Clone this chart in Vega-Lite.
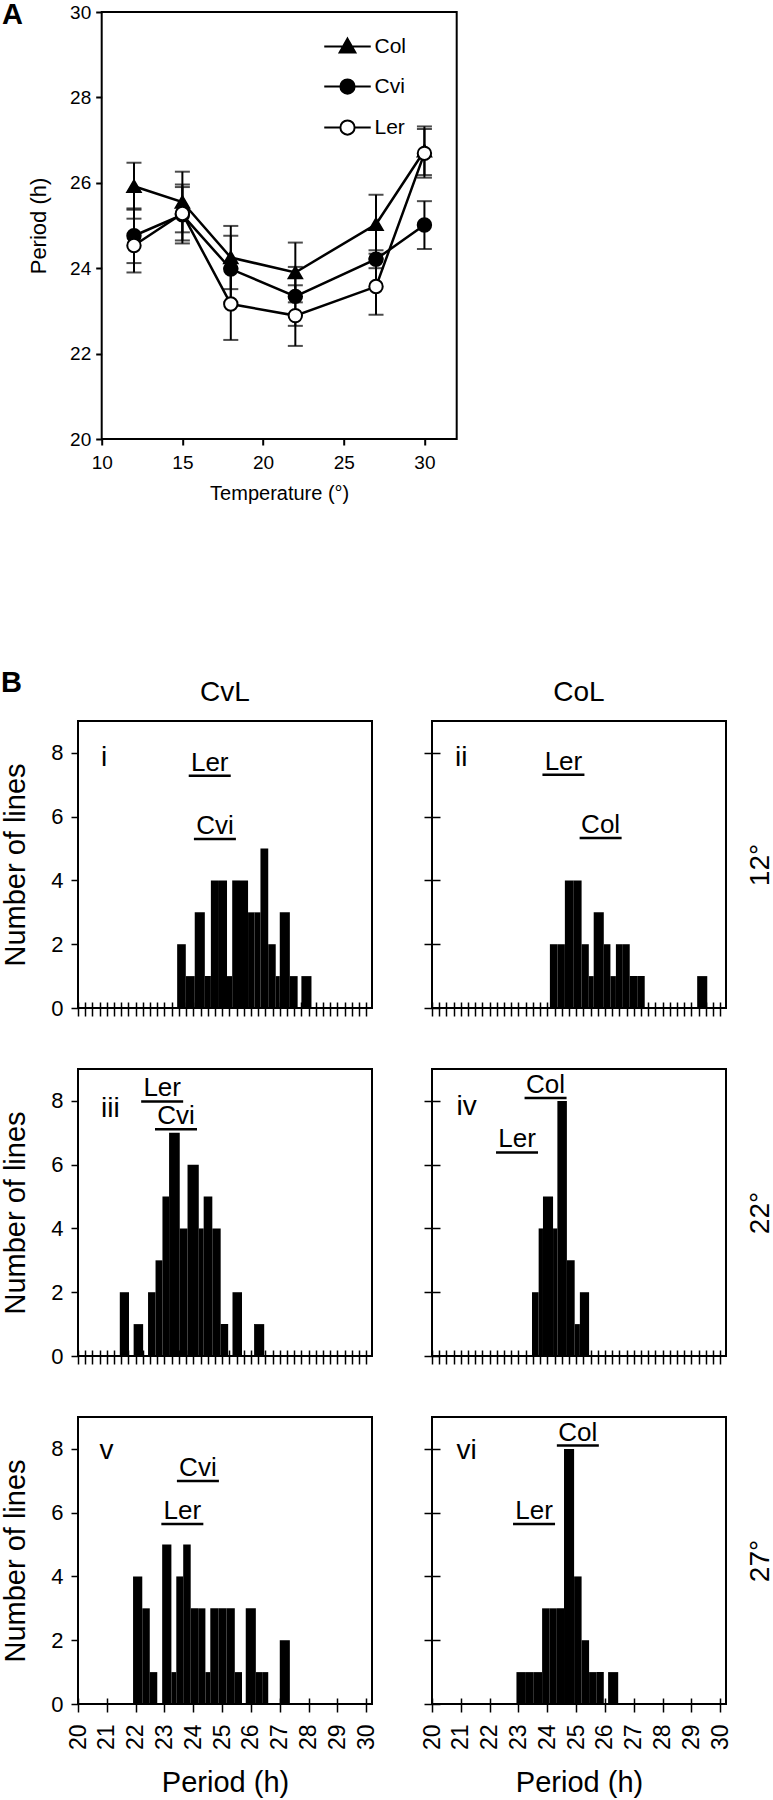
{
  "$schema": "https://vega.github.io/schema/vega-lite/v6.json",
  "padding": 0,
  "background": "white",
  "config": {
    "font": "Liberation Sans",
    "view": {"stroke": "black", "strokeWidth": 2},
    "axis": {"labelColor": "black", "titleColor": "black", "tickColor": "black", "domain": false, "grid": false, "titleFontWeight": "normal", "labelFlush": false},
    "title": {"color": "black"},
    "legend": {"labelColor": "black"}
  },
  "datasets": {
    "periods": [
      {"line": "Col", "temp": 12, "period": 25.92, "lo": 25.37, "hi": 26.47},
      {"line": "Col", "temp": 15, "period": 25.55, "lo": 24.84, "hi": 26.26},
      {"line": "Col", "temp": 18, "period": 24.25, "lo": 23.51, "hi": 24.99},
      {"line": "Col", "temp": 22, "period": 23.9, "lo": 23.2, "hi": 24.6},
      {"line": "Col", "temp": 27, "period": 25.03, "lo": 24.34, "hi": 25.72},
      {"line": "Col", "temp": 30, "period": 26.75, "lo": 26.18, "hi": 27.32},
      {"line": "Cvi", "temp": 12, "period": 24.76, "lo": 24.12, "hi": 25.4},
      {"line": "Cvi", "temp": 15, "period": 25.25, "lo": 24.58, "hi": 25.96},
      {"line": "Cvi", "temp": 18, "period": 23.98, "lo": 23.2, "hi": 24.76},
      {"line": "Cvi", "temp": 22, "period": 23.34, "lo": 22.65, "hi": 24.03},
      {"line": "Cvi", "temp": 27, "period": 24.21, "lo": 24.0, "hi": 24.42},
      {"line": "Cvi", "temp": 30, "period": 25.01, "lo": 24.45, "hi": 25.57},
      {"line": "Ler", "temp": 12, "period": 24.53, "lo": 23.9, "hi": 25.16},
      {"line": "Ler", "temp": 15, "period": 25.28, "lo": 24.65, "hi": 25.9},
      {"line": "Ler", "temp": 18, "period": 23.16, "lo": 22.32, "hi": 24.0},
      {"line": "Ler", "temp": 22, "period": 22.89, "lo": 22.18, "hi": 23.6},
      {"line": "Ler", "temp": 27, "period": 23.57, "lo": 22.91, "hi": 24.23},
      {"line": "Ler", "temp": 30, "period": 26.69, "lo": 26.12, "hi": 27.26}
    ],
    "hist": [
      {"panel": "i", "start": 23.44, "end": 23.74, "n": 2},
      {"panel": "i", "start": 23.74, "end": 24.05, "n": 1},
      {"panel": "i", "start": 24.05, "end": 24.4, "n": 3},
      {"panel": "i", "start": 24.4, "end": 24.61, "n": 1},
      {"panel": "i", "start": 24.61, "end": 24.89, "n": 4},
      {"panel": "i", "start": 24.89, "end": 25.17, "n": 4},
      {"panel": "i", "start": 25.17, "end": 25.35, "n": 1},
      {"panel": "i", "start": 25.35, "end": 25.62, "n": 4},
      {"panel": "i", "start": 25.62, "end": 25.9, "n": 4},
      {"panel": "i", "start": 25.9, "end": 26.12, "n": 3},
      {"panel": "i", "start": 26.12, "end": 26.33, "n": 3},
      {"panel": "i", "start": 26.33, "end": 26.6, "n": 5},
      {"panel": "i", "start": 26.6, "end": 26.86, "n": 2},
      {"panel": "i", "start": 26.86, "end": 27.0, "n": 1},
      {"panel": "i", "start": 27.0, "end": 27.35, "n": 3},
      {"panel": "i", "start": 27.35, "end": 27.62, "n": 1},
      {"panel": "i", "start": 27.75, "end": 28.1, "n": 1},
      {"panel": "ii", "start": 24.09, "end": 24.35, "n": 2},
      {"panel": "ii", "start": 24.35, "end": 24.61, "n": 2},
      {"panel": "ii", "start": 24.61, "end": 24.9, "n": 4},
      {"panel": "ii", "start": 24.9, "end": 25.19, "n": 4},
      {"panel": "ii", "start": 25.19, "end": 25.44, "n": 2},
      {"panel": "ii", "start": 25.44, "end": 25.61, "n": 1},
      {"panel": "ii", "start": 25.61, "end": 25.96, "n": 3},
      {"panel": "ii", "start": 25.96, "end": 26.19, "n": 2},
      {"panel": "ii", "start": 26.19, "end": 26.38, "n": 1},
      {"panel": "ii", "start": 26.38, "end": 26.62, "n": 2},
      {"panel": "ii", "start": 26.62, "end": 26.86, "n": 2},
      {"panel": "ii", "start": 26.86, "end": 27.12, "n": 1},
      {"panel": "ii", "start": 27.12, "end": 27.38, "n": 1},
      {"panel": "ii", "start": 29.2, "end": 29.55, "n": 1},
      {"panel": "iii", "start": 21.45, "end": 21.77, "n": 2},
      {"panel": "iii", "start": 21.93, "end": 22.26, "n": 1},
      {"panel": "iii", "start": 22.43, "end": 22.69, "n": 2},
      {"panel": "iii", "start": 22.69, "end": 22.93, "n": 3},
      {"panel": "iii", "start": 22.93, "end": 23.16, "n": 5},
      {"panel": "iii", "start": 23.16, "end": 23.53, "n": 7},
      {"panel": "iii", "start": 23.53, "end": 23.8, "n": 4},
      {"panel": "iii", "start": 23.8, "end": 24.19, "n": 6},
      {"panel": "iii", "start": 24.19, "end": 24.36, "n": 4},
      {"panel": "iii", "start": 24.36, "end": 24.66, "n": 5},
      {"panel": "iii", "start": 24.66, "end": 24.95, "n": 4},
      {"panel": "iii", "start": 24.95, "end": 25.21, "n": 1},
      {"panel": "iii", "start": 25.36, "end": 25.69, "n": 2},
      {"panel": "iii", "start": 26.11, "end": 26.46, "n": 1},
      {"panel": "iv", "start": 23.47, "end": 23.7, "n": 2},
      {"panel": "iv", "start": 23.7, "end": 23.85, "n": 4},
      {"panel": "iv", "start": 23.85, "end": 24.2, "n": 5},
      {"panel": "iv", "start": 24.2, "end": 24.35, "n": 4},
      {"panel": "iv", "start": 24.35, "end": 24.68, "n": 8},
      {"panel": "iv", "start": 24.68, "end": 24.95, "n": 3},
      {"panel": "iv", "start": 24.95, "end": 25.13, "n": 1},
      {"panel": "iv", "start": 25.13, "end": 25.45, "n": 2},
      {"panel": "v", "start": 21.91, "end": 22.23, "n": 4},
      {"panel": "v", "start": 22.23, "end": 22.49, "n": 3},
      {"panel": "v", "start": 22.49, "end": 22.75, "n": 1},
      {"panel": "v", "start": 22.92, "end": 23.24, "n": 5},
      {"panel": "v", "start": 23.24, "end": 23.41, "n": 1},
      {"panel": "v", "start": 23.41, "end": 23.65, "n": 4},
      {"panel": "v", "start": 23.65, "end": 23.91, "n": 5},
      {"panel": "v", "start": 23.91, "end": 24.17, "n": 3},
      {"panel": "v", "start": 24.17, "end": 24.42, "n": 3},
      {"panel": "v", "start": 24.42, "end": 24.59, "n": 1},
      {"panel": "v", "start": 24.59, "end": 24.87, "n": 3},
      {"panel": "v", "start": 24.87, "end": 25.15, "n": 3},
      {"panel": "v", "start": 25.15, "end": 25.44, "n": 3},
      {"panel": "v", "start": 25.44, "end": 25.69, "n": 1},
      {"panel": "v", "start": 25.82, "end": 26.17, "n": 3},
      {"panel": "v", "start": 26.17, "end": 26.39, "n": 1},
      {"panel": "v", "start": 26.39, "end": 26.6, "n": 1},
      {"panel": "v", "start": 27.0, "end": 27.35, "n": 2},
      {"panel": "vi", "start": 22.93, "end": 23.23, "n": 1},
      {"panel": "vi", "start": 23.23, "end": 23.53, "n": 1},
      {"panel": "vi", "start": 23.53, "end": 23.82, "n": 1},
      {"panel": "vi", "start": 23.82, "end": 24.07, "n": 3},
      {"panel": "vi", "start": 24.07, "end": 24.33, "n": 3},
      {"panel": "vi", "start": 24.33, "end": 24.58, "n": 3},
      {"panel": "vi", "start": 24.58, "end": 24.93, "n": 8},
      {"panel": "vi", "start": 24.93, "end": 25.19, "n": 4},
      {"panel": "vi", "start": 25.19, "end": 25.45, "n": 2},
      {"panel": "vi", "start": 25.45, "end": 25.7, "n": 1},
      {"panel": "vi", "start": 25.7, "end": 25.96, "n": 1},
      {"panel": "vi", "start": 26.11, "end": 26.46, "n": 1}
    ],
    "parents": [
      {"panel": "i", "label": "Ler", "period": 24.57, "level": 7.44},
      {"panel": "i", "label": "Cvi", "period": 24.75, "level": 5.46},
      {"panel": "ii", "label": "Ler", "period": 24.56, "level": 7.47},
      {"panel": "ii", "label": "Col", "period": 25.85, "level": 5.49},
      {"panel": "iii", "label": "Ler", "period": 22.92, "level": 8.14},
      {"panel": "iii", "label": "Cvi", "period": 23.4, "level": 7.27},
      {"panel": "iv", "label": "Col", "period": 23.94, "level": 8.25},
      {"panel": "iv", "label": "Ler", "period": 22.95, "level": 6.54},
      {"panel": "v", "label": "Cvi", "period": 24.16, "level": 7.15},
      {"panel": "v", "label": "Ler", "period": 23.62, "level": 5.8},
      {"panel": "vi", "label": "Col", "period": 25.06, "level": 8.26},
      {"panel": "vi", "label": "Ler", "period": 23.54, "level": 5.8}
    ]
  },
  "columns": 1,
  "align": "none",
  "spacing": 165,
  "concat": [
    {
      "bounds": "flush",
      "spacing": 22.7,
      "hconcat": [
        {"width": 1, "height": 1, "view": {"stroke": null}, "data": {"values": []}, "mark": "point"},
        {
          "width": 355,
          "height": 427,
          "title": {"text": "A", "anchor": "start", "frame": "group", "dx": -99.7, "dy": 27, "offset": 0, "fontSize": 29, "fontWeight": "bold"},
          "data": {"name": "periods"},
          "layer": [
            {
              "mark": {"type": "rule", "color": "black", "strokeWidth": 2},
              "encoding": {
                "x": {"field": "temp", "type": "quantitative", "title": "Temperature (°)", "scale": {"domain": [10, 32], "nice": false, "zero": false},
                  "axis": {"values": [10, 15, 20, 25, 30], "title": "Temperature (°)", "titleFontSize": 20, "labelFontSize": 19, "tickSize": 6, "tickWidth": 2, "labelPadding": 8, "titlePadding": 11, "labelFlush": false}},
                "y": {"field": "lo", "type": "quantitative", "title": "Period (h)", "scale": {"domain": [20, 30], "nice": false, "zero": false},
                  "axis": {"values": [20, 22, 24, 26, 28, 30], "title": "Period (h)", "titleFontSize": 22, "labelFontSize": 19, "tickSize": 6, "tickWidth": 2, "labelPadding": 5, "titlePadding": 19, "labelFlush": false}},
                "y2": {"field": "hi"}
              }
            },
            {
              "mark": {"type": "tick", "orient": "horizontal", "size": 15, "thickness": 2, "color": "black"},
              "encoding": {
                "x": {"field": "temp", "type": "quantitative", "title": "Temperature (°)"},
                "y": {"field": "lo", "type": "quantitative", "title": "Period (h)"}
              }
            },
            {
              "mark": {"type": "tick", "orient": "horizontal", "size": 15, "thickness": 2, "color": "black"},
              "encoding": {
                "x": {"field": "temp", "type": "quantitative", "title": "Temperature (°)"},
                "y": {"field": "hi", "type": "quantitative", "title": "Period (h)"}
              }
            },
            {
              "mark": {"type": "line", "color": "black", "strokeWidth": 2.5},
              "encoding": {
                "x": {"field": "temp", "type": "quantitative", "title": "Temperature (°)"},
                "y": {"field": "period", "type": "quantitative", "title": "Period (h)"},
                "detail": {"field": "line"}
              }
            },
            {
              "mark": {"type": "point", "filled": true, "opacity": 0, "size": 225},
              "encoding": {
                "x": {"field": "temp", "type": "quantitative", "title": "Temperature (°)"},
                "y": {"field": "period", "type": "quantitative", "title": "Period (h)"},
                "shape": {"field": "line", "type": "nominal",
                  "scale": {"domain": ["Col", "Cvi", "Ler"], "range": ["M-3.1,0H3.1M0,-1.05L1.05,0.8H-1.05Z", "M-3.1,0H3.1M0.95,0A0.95,0.95,0,1,1,-0.95,0A0.95,0.95,0,1,1,0.95,0Z", "M-3.1,0H-0.95M0.95,0H3.1M0.95,0A0.95,0.95,0,1,1,-0.95,0A0.95,0.95,0,1,1,0.95,0Z"]},
                  "legend": {"orient": "none", "legendX": 259, "legendY": 24, "title": null, "padding": 0, "symbolSize": 225, "symbolStrokeWidth": 2, "symbolOpacity": 1, "labelFontSize": 21, "labelOffset": 16.5, "rowPadding": 18}},
                "fill": {"field": "line", "type": "nominal",
                  "scale": {"domain": ["Col", "Cvi", "Ler"], "range": ["black", "black", "white"]},
                  "legend": {"orient": "none", "legendX": 259, "legendY": 24, "title": null, "padding": 0, "symbolSize": 225, "symbolStrokeWidth": 2, "symbolOpacity": 1, "labelFontSize": 21, "labelOffset": 16.5, "rowPadding": 18}},
                "stroke": {"field": "line", "type": "nominal",
                  "scale": {"domain": ["Col", "Cvi", "Ler"], "range": ["black", "black", "black"]},
                  "legend": {"orient": "none", "legendX": 259, "legendY": 24, "title": null, "padding": 0, "symbolSize": 225, "symbolStrokeWidth": 2, "symbolOpacity": 1, "labelFontSize": 21, "labelOffset": 16.5, "rowPadding": 18}}
              }
            },
            {
              "transform": [{"filter": "datum.line === 'Col'"}],
              "mark": {"type": "point", "shape": "triangle-up", "filled": true, "fill": "black", "stroke": "black", "strokeWidth": 2, "size": 180, "opacity": 1},
              "encoding": {
                "x": {"field": "temp", "type": "quantitative", "title": "Temperature (°)"},
                "y": {"field": "period", "type": "quantitative", "title": "Period (h)"}
              }
            },
            {
              "transform": [{"filter": "datum.line === 'Cvi'"}],
              "mark": {"type": "point", "shape": "circle", "filled": true, "fill": "black", "stroke": "black", "strokeWidth": 2, "size": 180, "opacity": 1},
              "encoding": {
                "x": {"field": "temp", "type": "quantitative", "title": "Temperature (°)"},
                "y": {"field": "period", "type": "quantitative", "title": "Period (h)"}
              }
            },
            {
              "transform": [{"filter": "datum.line === 'Ler'"}],
              "mark": {"type": "point", "shape": "circle", "filled": true, "fill": "white", "stroke": "black", "strokeWidth": 2, "size": 180, "opacity": 1},
              "encoding": {
                "x": {"field": "temp", "type": "quantitative", "title": "Temperature (°)"},
                "y": {"field": "period", "type": "quantitative", "title": "Period (h)"}
              }
            }
          ]
        }
      ]
    },
    {
      "title": {"text": "B", "anchor": "start", "frame": "group", "dx": -77, "dy": 20, "offset": 0, "fontSize": 29, "fontWeight": "bold"},
      "bounds": "flush",
      "columns": 2,
      "spacing": {"row": 61, "column": 60},
      "concat": [
        {
          "width": 294, "height": 287,
          "title": {"text": "CvL", "fontSize": 28, "fontWeight": "normal", "anchor": "middle", "offset": 14},
          "layer": [
            {"data": {"name": "hist"}, "transform": [{"filter": "datum.panel === 'i'"}], "mark": {"type": "rect", "color": "black"},
              "encoding": {
                "x": {"field": "start", "type": "quantitative", "scale": {"domain": [20, 30.2], "nice": false, "zero": false},
                  "axis": {"values": [20,20.25,20.5,20.75,21,21.25,21.5,21.75,22,22.25,22.5,22.75,23,23.25,23.5,23.75,24,24.25,24.5,24.75,25,25.25,25.5,25.75,26,26.25,26.5,26.75,27,27.25,27.5,27.75,28,28.25,28.5,28.75,29,29.25,29.5,29.75,30], "labels": false, "title": null, "offset": -6, "tickSize": 14, "tickWidth": 1.5}},
                "x2": {"field": "end"},
                "y": {"field": "n", "type": "quantitative", "scale": {"domain": [0, 9], "nice": false},
                  "axis": {"values": [0, 2, 4, 6, 8], "labelFontSize": 22, "labelPadding": 8, "tickSize": 7, "tickWidth": 1.5, "title": "Number of lines", "titleFontSize": 29, "titlePadding": 20}},
                "y2": {"datum": 0}
              }},
            {"data": {"name": "parents"}, "transform": [{"filter": "datum.panel === 'i'"}], "mark": {"type": "rule", "color": "black", "strokeWidth": 2.5, "xOffset": -21, "x2Offset": 21, "yOffset": 5},
              "encoding": {"x": {"field": "period", "type": "quantitative", "axis": null}, "x2": {"field": "period"}, "y": {"field": "level", "type": "quantitative", "axis": null}}},
            {"data": {"name": "parents"}, "transform": [{"filter": "datum.panel === 'i'"}], "mark": {"type": "text", "fontSize": 26, "baseline": "alphabetic", "align": "center", "color": "black"},
              "encoding": {"x": {"field": "period", "type": "quantitative", "axis": null}, "y": {"field": "level", "type": "quantitative", "axis": null}, "text": {"field": "label"}}},
            {"data": {"values": [{"tag": "i"}]}, "mark": {"type": "text", "fontSize": 28, "baseline": "alphabetic", "align": "left", "color": "black"},
              "encoding": {"x": {"datum": 20.8, "type": "quantitative", "axis": null}, "y": {"datum": 7.6, "type": "quantitative", "axis": null}, "text": {"field": "tag"}}}
          ],
          "resolve": {"axis": {"x": "independent", "y": "independent"}}
        },
        {
          "width": 294, "height": 287,
          "title": {"text": "CoL", "fontSize": 28, "fontWeight": "normal", "anchor": "middle", "offset": 14},
          "layer": [
            {"data": {"name": "hist"}, "transform": [{"filter": "datum.panel === 'ii'"}], "mark": {"type": "rect", "color": "black"},
              "encoding": {
                "x": {"field": "start", "type": "quantitative", "scale": {"domain": [20, 30.2], "nice": false, "zero": false},
                  "axis": {"values": [20,20.25,20.5,20.75,21,21.25,21.5,21.75,22,22.25,22.5,22.75,23,23.25,23.5,23.75,24,24.25,24.5,24.75,25,25.25,25.5,25.75,26,26.25,26.5,26.75,27,27.25,27.5,27.75,28,28.25,28.5,28.75,29,29.25,29.5,29.75,30], "labels": false, "title": null, "offset": -6, "tickSize": 14, "tickWidth": 1.5}},
                "x2": {"field": "end"},
                "y": {"field": "n", "type": "quantitative", "scale": {"domain": [0, 9], "nice": false},
                  "axis": {"values": [0, 2, 4, 6, 8], "labels": false, "offset": -8, "tickSize": 16, "tickWidth": 1.5, "title": null}},
                "y2": {"datum": 0}
              }},
            {"data": {"name": "parents"}, "transform": [{"filter": "datum.panel === 'ii'"}], "mark": {"type": "rule", "color": "black", "strokeWidth": 2.5, "xOffset": -21, "x2Offset": 21, "yOffset": 5},
              "encoding": {"x": {"field": "period", "type": "quantitative", "axis": null}, "x2": {"field": "period"}, "y": {"field": "level", "type": "quantitative", "axis": null}}},
            {"data": {"name": "parents"}, "transform": [{"filter": "datum.panel === 'ii'"}], "mark": {"type": "text", "fontSize": 26, "baseline": "alphabetic", "align": "center", "color": "black"},
              "encoding": {"x": {"field": "period", "type": "quantitative", "axis": null},
                "y": {"field": "level", "type": "quantitative", "axis": {"orient": "right", "title": "12°", "titleFontSize": 28, "titleAngle": 270, "titleBaseline": "top", "titlePadding": 20, "ticks": false, "labels": false}},
                "text": {"field": "label"}}},
            {"data": {"values": [{"tag": "ii"}]}, "mark": {"type": "text", "fontSize": 28, "baseline": "alphabetic", "align": "left", "color": "black"},
              "encoding": {"x": {"datum": 20.8, "type": "quantitative", "axis": null}, "y": {"datum": 7.6, "type": "quantitative", "axis": null}, "text": {"field": "tag"}}}
          ],
          "resolve": {"axis": {"x": "independent", "y": "independent"}}
        },
        {
          "width": 294, "height": 287,
          "layer": [
            {"data": {"name": "hist"}, "transform": [{"filter": "datum.panel === 'iii'"}], "mark": {"type": "rect", "color": "black"},
              "encoding": {
                "x": {"field": "start", "type": "quantitative", "scale": {"domain": [20, 30.2], "nice": false, "zero": false},
                  "axis": {"values": [20,20.25,20.5,20.75,21,21.25,21.5,21.75,22,22.25,22.5,22.75,23,23.25,23.5,23.75,24,24.25,24.5,24.75,25,25.25,25.5,25.75,26,26.25,26.5,26.75,27,27.25,27.5,27.75,28,28.25,28.5,28.75,29,29.25,29.5,29.75,30], "labels": false, "title": null, "offset": -6, "tickSize": 14, "tickWidth": 1.5}},
                "x2": {"field": "end"},
                "y": {"field": "n", "type": "quantitative", "scale": {"domain": [0, 9], "nice": false},
                  "axis": {"values": [0, 2, 4, 6, 8], "labelFontSize": 22, "labelPadding": 8, "tickSize": 7, "tickWidth": 1.5, "title": "Number of lines", "titleFontSize": 29, "titlePadding": 20}},
                "y2": {"datum": 0}
              }},
            {"data": {"name": "parents"}, "transform": [{"filter": "datum.panel === 'iii'"}], "mark": {"type": "rule", "color": "black", "strokeWidth": 2.5, "xOffset": -21, "x2Offset": 21, "yOffset": 5},
              "encoding": {"x": {"field": "period", "type": "quantitative", "axis": null}, "x2": {"field": "period"}, "y": {"field": "level", "type": "quantitative", "axis": null}}},
            {"data": {"name": "parents"}, "transform": [{"filter": "datum.panel === 'iii'"}], "mark": {"type": "text", "fontSize": 26, "baseline": "alphabetic", "align": "center", "color": "black"},
              "encoding": {"x": {"field": "period", "type": "quantitative", "axis": null}, "y": {"field": "level", "type": "quantitative", "axis": null}, "text": {"field": "label"}}},
            {"data": {"values": [{"tag": "iii"}]}, "mark": {"type": "text", "fontSize": 28, "baseline": "alphabetic", "align": "left", "color": "black"},
              "encoding": {"x": {"datum": 20.8, "type": "quantitative", "axis": null}, "y": {"datum": 7.5, "type": "quantitative", "axis": null}, "text": {"field": "tag"}}}
          ],
          "resolve": {"axis": {"x": "independent", "y": "independent"}}
        },
        {
          "width": 294, "height": 287,
          "layer": [
            {"data": {"name": "hist"}, "transform": [{"filter": "datum.panel === 'iv'"}], "mark": {"type": "rect", "color": "black"},
              "encoding": {
                "x": {"field": "start", "type": "quantitative", "scale": {"domain": [20, 30.2], "nice": false, "zero": false},
                  "axis": {"values": [20,20.25,20.5,20.75,21,21.25,21.5,21.75,22,22.25,22.5,22.75,23,23.25,23.5,23.75,24,24.25,24.5,24.75,25,25.25,25.5,25.75,26,26.25,26.5,26.75,27,27.25,27.5,27.75,28,28.25,28.5,28.75,29,29.25,29.5,29.75,30], "labels": false, "title": null, "offset": -6, "tickSize": 14, "tickWidth": 1.5}},
                "x2": {"field": "end"},
                "y": {"field": "n", "type": "quantitative", "scale": {"domain": [0, 9], "nice": false},
                  "axis": {"values": [0, 2, 4, 6, 8], "labels": false, "offset": -8, "tickSize": 16, "tickWidth": 1.5, "title": null}},
                "y2": {"datum": 0}
              }},
            {"data": {"name": "parents"}, "transform": [{"filter": "datum.panel === 'iv'"}], "mark": {"type": "rule", "color": "black", "strokeWidth": 2.5, "xOffset": -21, "x2Offset": 21, "yOffset": 5},
              "encoding": {"x": {"field": "period", "type": "quantitative", "axis": null}, "x2": {"field": "period"}, "y": {"field": "level", "type": "quantitative", "axis": null}}},
            {"data": {"name": "parents"}, "transform": [{"filter": "datum.panel === 'iv'"}], "mark": {"type": "text", "fontSize": 26, "baseline": "alphabetic", "align": "center", "color": "black"},
              "encoding": {"x": {"field": "period", "type": "quantitative", "axis": null},
                "y": {"field": "level", "type": "quantitative", "axis": {"orient": "right", "title": "22°", "titleFontSize": 28, "titleAngle": 270, "titleBaseline": "top", "titlePadding": 20, "ticks": false, "labels": false}},
                "text": {"field": "label"}}},
            {"data": {"values": [{"tag": "iv"}]}, "mark": {"type": "text", "fontSize": 28, "baseline": "alphabetic", "align": "left", "color": "black"},
              "encoding": {"x": {"datum": 20.85, "type": "quantitative", "axis": null}, "y": {"datum": 7.57, "type": "quantitative", "axis": null}, "text": {"field": "tag"}}}
          ],
          "resolve": {"axis": {"x": "independent", "y": "independent"}}
        },
        {
          "width": 294, "height": 287,
          "layer": [
            {"data": {"name": "hist"}, "transform": [{"filter": "datum.panel === 'v'"}], "mark": {"type": "rect", "color": "black"},
              "encoding": {
                "x": {"field": "start", "type": "quantitative", "scale": {"domain": [20, 30.2], "nice": false, "zero": false},
                  "axis": {"values": [20,20.25,20.5,20.75,21,21.25,21.5,21.75,22,22.25,22.5,22.75,23,23.25,23.5,23.75,24,24.25,24.5,24.75,25,25.25,25.5,25.75,26,26.25,26.5,26.75,27,27.25,27.5,27.75,28,28.25,28.5,28.75,29,29.25,29.5,29.75,30], "format": "d", "labelExpr": "datum.value % 1 === 0 ? datum.label : ''", "labelAngle": 270, "labelFontSize": 23, "labelPadding": 12, "labelOverlap": false, "title": "Period (h)", "titleFontSize": 29, "titlePadding": 19, "offset": -6, "tickSize": 14, "tickWidth": 1.5}},
                "x2": {"field": "end"},
                "y": {"field": "n", "type": "quantitative", "scale": {"domain": [0, 9], "nice": false},
                  "axis": {"values": [0, 2, 4, 6, 8], "labelFontSize": 22, "labelPadding": 8, "tickSize": 7, "tickWidth": 1.5, "title": "Number of lines", "titleFontSize": 29, "titlePadding": 20}},
                "y2": {"datum": 0}
              }},
            {"data": {"name": "parents"}, "transform": [{"filter": "datum.panel === 'v'"}], "mark": {"type": "rule", "color": "black", "strokeWidth": 2.5, "xOffset": -21, "x2Offset": 21, "yOffset": 5},
              "encoding": {"x": {"field": "period", "type": "quantitative", "axis": null}, "x2": {"field": "period"}, "y": {"field": "level", "type": "quantitative", "axis": null}}},
            {"data": {"name": "parents"}, "transform": [{"filter": "datum.panel === 'v'"}], "mark": {"type": "text", "fontSize": 26, "baseline": "alphabetic", "align": "center", "color": "black"},
              "encoding": {"x": {"field": "period", "type": "quantitative", "axis": null}, "y": {"field": "level", "type": "quantitative", "axis": null}, "text": {"field": "label"}}},
            {"data": {"values": [{"tag": "v"}]}, "mark": {"type": "text", "fontSize": 28, "baseline": "alphabetic", "align": "left", "color": "black"},
              "encoding": {"x": {"datum": 20.75, "type": "quantitative", "axis": null}, "y": {"datum": 7.67, "type": "quantitative", "axis": null}, "text": {"field": "tag"}}}
          ],
          "resolve": {"axis": {"x": "independent", "y": "independent"}}
        },
        {
          "width": 294, "height": 287,
          "layer": [
            {"data": {"name": "hist"}, "transform": [{"filter": "datum.panel === 'vi'"}], "mark": {"type": "rect", "color": "black"},
              "encoding": {
                "x": {"field": "start", "type": "quantitative", "scale": {"domain": [20, 30.2], "nice": false, "zero": false},
                  "axis": {"values": [20,20.25,20.5,20.75,21,21.25,21.5,21.75,22,22.25,22.5,22.75,23,23.25,23.5,23.75,24,24.25,24.5,24.75,25,25.25,25.5,25.75,26,26.25,26.5,26.75,27,27.25,27.5,27.75,28,28.25,28.5,28.75,29,29.25,29.5,29.75,30], "format": "d", "labelExpr": "datum.value % 1 === 0 ? datum.label : ''", "labelAngle": 270, "labelFontSize": 23, "labelPadding": 12, "labelOverlap": false, "title": "Period (h)", "titleFontSize": 29, "titlePadding": 19, "offset": -6, "tickSize": 14, "tickWidth": 1.5}},
                "x2": {"field": "end"},
                "y": {"field": "n", "type": "quantitative", "scale": {"domain": [0, 9], "nice": false},
                  "axis": {"values": [0, 2, 4, 6, 8], "labels": false, "offset": -8, "tickSize": 16, "tickWidth": 1.5, "title": null}},
                "y2": {"datum": 0}
              }},
            {"data": {"name": "parents"}, "transform": [{"filter": "datum.panel === 'vi'"}], "mark": {"type": "rule", "color": "black", "strokeWidth": 2.5, "xOffset": -21, "x2Offset": 21, "yOffset": 5},
              "encoding": {"x": {"field": "period", "type": "quantitative", "axis": null}, "x2": {"field": "period"}, "y": {"field": "level", "type": "quantitative", "axis": null}}},
            {"data": {"name": "parents"}, "transform": [{"filter": "datum.panel === 'vi'"}], "mark": {"type": "text", "fontSize": 26, "baseline": "alphabetic", "align": "center", "color": "black"},
              "encoding": {"x": {"field": "period", "type": "quantitative", "axis": null},
                "y": {"field": "level", "type": "quantitative", "axis": {"orient": "right", "title": "27°", "titleFontSize": 28, "titleAngle": 270, "titleBaseline": "top", "titlePadding": 20, "ticks": false, "labels": false}},
                "text": {"field": "label"}}},
            {"data": {"values": [{"tag": "vi"}]}, "mark": {"type": "text", "fontSize": 28, "baseline": "alphabetic", "align": "left", "color": "black"},
              "encoding": {"x": {"datum": 20.85, "type": "quantitative", "axis": null}, "y": {"datum": 7.67, "type": "quantitative", "axis": null}, "text": {"field": "tag"}}}
          ],
          "resolve": {"axis": {"x": "independent", "y": "independent"}}
        }
      ]
    }
  ]
}
